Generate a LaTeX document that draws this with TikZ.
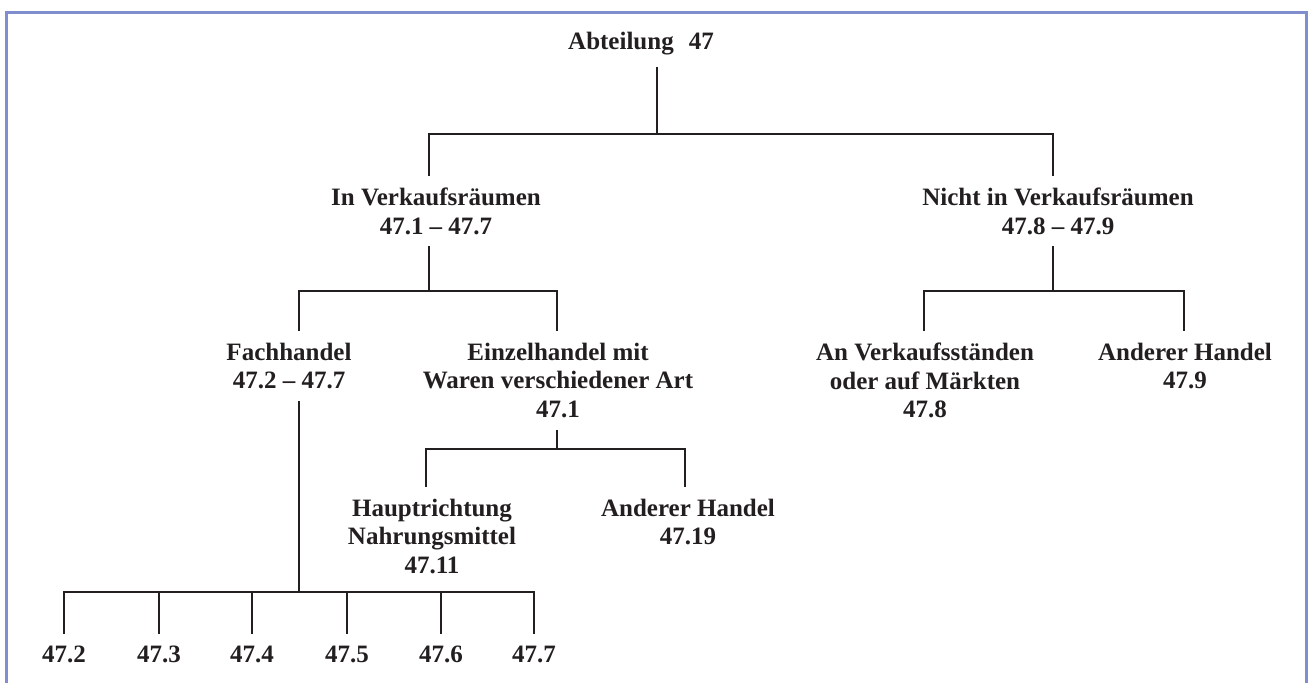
\documentclass[tikz,border=0pt]{standalone}
\usepackage{fontspec}
\setmainfont{Liberation Serif}
\definecolor{ink}{HTML}{231F20}
\definecolor{framecol}{HTML}{808ECE}
\begin{document}
\begin{tikzpicture}[x=0.5pt,y=-0.5pt,
  lab/.style={align=center,inner sep=0pt,outer ysep=6pt,anchor=north,text=ink,
              font=\fontsize{12.5}{14.25}\selectfont\bfseries},
  wire/.style={draw=ink,line width=1.3pt,line join=miter}]
\useasboundingbox (0,0) rectangle (1309,682);
\clip (0,0) rectangle (1309,682);
\draw[framecol,line width=1.5pt] (6,12) rectangle (1306,720);

\node[lab] (abt)   at (641,20)  {Abteilung\hspace{0.6em}47};
\node[lab] (ivr)   at (436,176) {In Verkaufsräumen\\47.1 – 47.7};
\node[lab] (nvr)   at (1058,176) {Nicht in Verkaufsräumen\\47.8 – 47.9};
\node[lab] (fach)  at (289,331) {Fachhandel\\47.2 – 47.7};
\node[lab] (einz)  at (558,331) {Einzelhandel mit\\Waren verschiedener Art\\47.1};
\node[lab] (anv)   at (925,331) {An Verkaufsständen\\oder auf Märkten\\47.8};
\node[lab] (andb)  at (1185,331) {Anderer Handel\\47.9};
\node[lab] (haupt) at (432,487) {Hauptrichtung\\Nahrungsmittel\\47.11};
\node[lab] (anda)  at (688,487) {Anderer Handel\\47.19};
\node[lab] (n2) at (64,634)  {47.2};
\node[lab] (n3) at (159,634) {47.3};
\node[lab] (n4) at (252,634) {47.4};
\node[lab] (n5) at (347,634) {47.5};
\node[lab] (n6) at (441,634) {47.6};
\node[lab] (n7) at (534,634) {47.7};

\coordinate (k0) at (657,134); \coordinate (k0l) at (429,134); \coordinate (k0r) at (1053,134);
\coordinate (k1) at (429,291); \coordinate (k1l) at (299,291); \coordinate (k1r) at (557,291);
\coordinate (k2) at (1053,291); \coordinate (k2l) at (924,291); \coordinate (k2r) at (1184,291);
\coordinate (k3) at (557,449); \coordinate (k3l) at (426,449); \coordinate (k3r) at (685,449);
\coordinate (k4) at (299,592); \coordinate (k4l) at (64,592); \coordinate (k4r) at (534,592);

\draw[wire] (abt.south -| k0) -- (k0);
\draw[wire] (ivr.north -| k0l) -- (k0l) -- (k0r) -- (nvr.north -| k0r);
\draw[wire] (ivr.south -| k1) -- (k1);
\draw[wire] (fach.north -| k1l) -- (k1l) -- (k1r) -- (einz.north -| k1r);
\draw[wire] (nvr.south -| k2) -- (k2);
\draw[wire] (anv.north -| k2l) -- (k2l) -- (k2r) -- (andb.north -| k2r);
\draw[wire] (einz.south -| k3) -- (k3);
\draw[wire] (haupt.north -| k3l) -- (k3l) -- (k3r) -- (anda.north -| k3r);
\draw[wire] (fach.south -| k4) -- (k4);
\draw[wire] (n2.north -| k4l) -- (k4l) -- (k4r) -- (n7.north -| k4r);
\foreach \n in {n3,n4,n5,n6} \draw[wire] (k4 -| \n) -- (\n.north);
\end{tikzpicture}
\end{document}
